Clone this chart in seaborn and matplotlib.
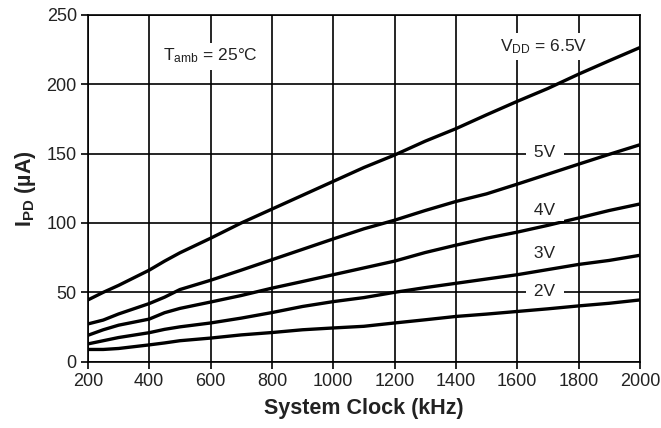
import matplotlib
matplotlib.use("Agg")
import matplotlib.pyplot as plt
import seaborn as sns
import pandas as pd

# ---- data ----
clock_khz = [200, 250, 300, 400, 450, 500, 600, 700, 800, 900, 1000, 1100,
             1200, 1300, 1400, 1500, 1600, 1700, 1800, 1900, 2000]
ipd_6v5 = [44.5, 50, 55, 66, 72.5, 78.5, 89, 100, 110, 120, 130, 140,
           149, 159, 168, 178, 187.7, 197, 207.3, 217, 226.5]
ipd_5v = [27.2, 30, 34.4, 41.9, 46.5, 52, 58.7, 66, 73.5, 81, 88.5, 95.8,
          102, 109, 115.5, 121, 128, 135.2, 142.4, 149.5, 156.4]
ipd_4v = [19, 23, 26.3, 30.7, 35.3, 38.4, 43, 47.7, 53, 57.8, 62.7, 67.6,
          72.5, 78.7, 84, 89, 93.4, 98.3, 103.6, 109, 113.7]
ipd_3v = [12.8, 15.1, 17.4, 20.9, 23.3, 25.1, 27.9, 31.4, 35.4, 39.8, 43.3, 46.2,
          50, 53.4, 56.5, 59.6, 62.7, 66.4, 70.1, 73, 76.7]
ipd_2v = [8.8, 8.8, 9.5, 12.1, 13.5, 15.1, 17, 19.3, 21, 23, 24.3, 25.5,
          27.9, 30.2, 32.6, 34.3, 36.2, 38.1, 40.2, 42.1, 44.5]
series_names = ["6.5V", "5V", "4V", "3V", "2V"]
x_ticks = [200, 400, 600, 800, 1000, 1200, 1400, 1600, 1800, 2000]
y_ticks = [0, 50, 100, 150, 200, 250]

frames = []
for name, vals in zip(series_names, [ipd_6v5, ipd_5v, ipd_4v, ipd_3v, ipd_2v]):
    frames.append(pd.DataFrame({"clock": clock_khz, "ipd": vals, "vdd": name}))
df = pd.concat(frames, ignore_index=True)

sns.set_style("white")
plt.rcParams["font.family"] = ["Liberation Sans", "DejaVu Sans"]
plt.rcParams["mathtext.fontset"] = "custom"
plt.rcParams["mathtext.rm"] = "Liberation Sans"
plt.rcParams["mathtext.it"] = "Liberation Sans:italic"
plt.rcParams["mathtext.bf"] = "Liberation Sans:bold"

fig = plt.figure(figsize=(6.61, 4.28), dpi=100)
ax = fig.add_axes([0.133, 0.155, 0.835, 0.81])

sns.lineplot(data=df, x="clock", y="ipd", hue="vdd",
             palette={n: "black" for n in series_names},
             linewidth=2.4, legend=False, ax=ax, zorder=3)

ax.set_xlim(200, 2000)
ax.set_ylim(0, 250)
ax.set_xticks(x_ticks)
ax.set_yticks(y_ticks)
ax.grid(True, color="black", linewidth=1.2)
ax.set_axisbelow(True)
for s in ax.spines.values():
    s.set_color("black")
    s.set_linewidth(1.2)
ax.tick_params(axis="both", which="major", direction="out", length=5, width=1.2,
               color="black", labelsize=13, labelcolor="#222222",
               bottom=True, left=True, pad=3)

ax.set_xlabel("System Clock (kHz)", fontsize=15.5, fontweight="bold",
              labelpad=6, color="#222222")
ax.set_ylabel(r"I$_{\mathbf{PD}}$ (µA)", fontsize=15.5, fontweight="bold",
              labelpad=6, color="#222222")

box = dict(facecolor="white", edgecolor="none", pad=3)
ax.text(598, 217, r"T$_{\mathrm{amb}}$ = 25°C", fontsize=12.5, ha="center",
        va="baseline", bbox=box, zorder=4, color="#222222")
ax.text(1687, 224, r"V$_{\mathrm{DD}}$ = 6.5V", fontsize=12.5, ha="center",
        va="baseline", bbox=box, zorder=4, color="#222222")
box2 = dict(facecolor="white", edgecolor="none", pad=2.5)
for lbl, yv in zip(["5V", "4V", "3V", "2V"], [150.5, 109, 78, 50.5]):
    ax.text(1690, yv, " " + lbl + " ", fontsize=12.5, ha="center", va="center",
            bbox=box2, zorder=4, color="#222222")

fig.savefig("out.png", dpi=100)
